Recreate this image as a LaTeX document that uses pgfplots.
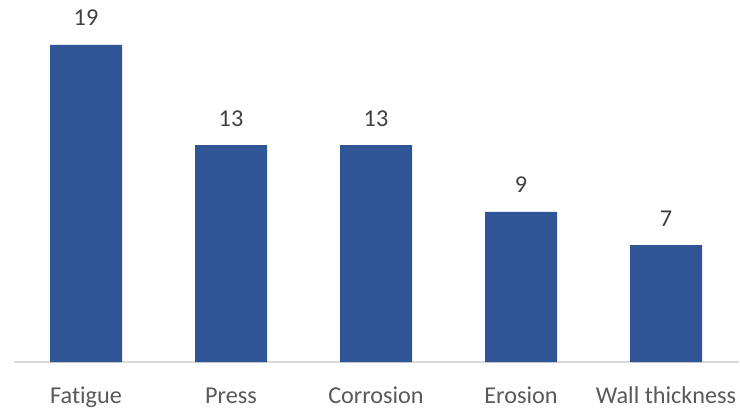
\documentclass[border=0pt]{standalone}
\usepackage{pgfplots}
\pgfplotsset{compat=1.18}
\usepackage{fontspec}
\setmainfont{Carlito}[Ligatures={NoCommon}]
\definecolor{barblue}{HTML}{2F5597}
\definecolor{ticktext}{HTML}{595959}
\definecolor{valtext}{HTML}{404040}
\definecolor{axisgray}{HTML}{D9D9D9}
\begin{document}
\begin{tikzpicture}
\useasboundingbox (-13.5bp,-48bp) rectangle (726.5bp,362bp);
\begin{axis}[
  at={(0,0)}, anchor=south west,
  scale only axis,
  width=725bp, height=362bp,
  xmin=-0.5, xmax=4.5,
  ymin=0, ymax=21.697,
  axis x line*=bottom,
  axis y line=none,
  x axis line style={draw=axisgray, line width=1.5bp, -},
  xtick={0,1,2,3,4},
  xticklabels={Fatigue,Press,Corrosion,Erosion,Wall thickness},
  xtick style={draw=none},
  ytick=\empty,
  xticklabel style={font=\fontsize{24.3}{28}\selectfont, text=ticktext, anchor=base, yshift=-41bp},
  /pgf/number format/assume math mode=true,
  nodes near coords,
  every node near coord/.append style={font=\fontsize{24.3}{28}\selectfont, text=valtext, anchor=base, yshift=19bp},
  clip=false,
]
\addplot[ybar, bar width=72bp, fill=barblue, draw=none] coordinates {
  (0,19) (1,13) (2,13) (3,9) (4,7)
};
\end{axis}
\end{tikzpicture}
\end{document}
